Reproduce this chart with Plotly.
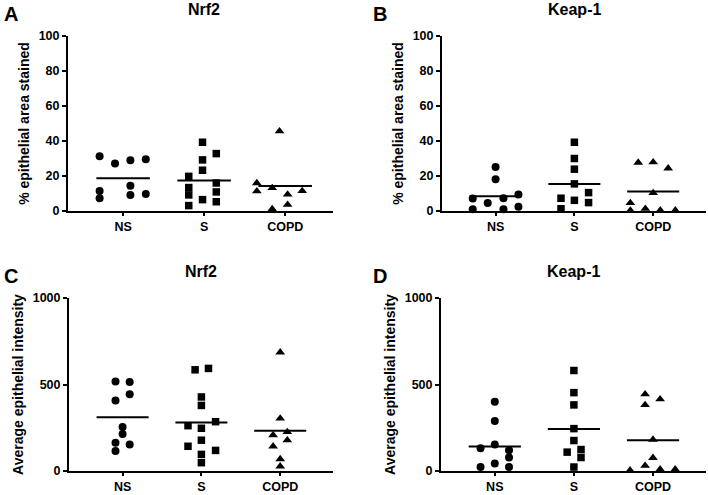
import plotly.graph_objects as go

## Data

groups = ["NS", "S", "COPD"]
pct_ticks = [0, 20, 40, 60, 80, 100]
int_ticks = [0, 500, 1000]

# Panel A: Nrf2, % epithelial area stained
a_ns = [31.3, 27.1, 29.0, 29.6, 11.5, 7.3, 14.5, 9.2, 9.7]
a_ns_off = [-0.29, -0.10, 0.09, 0.28, -0.29, -0.29, 0.09, 0.09, 0.28]
a_s = [19.8, 13.4, 9.2, 3.1, 39.3, 29.2, 23.3, 6.5, 32.8, 16.0, 10.9, 5.3]
a_s_off = [-0.19, -0.19, -0.19, -0.19, -0.02, -0.02, -0.02, -0.02, 0.15, 0.15, 0.15, 0.15]
a_copd = [16.0, 11.3, 13.2, 1.1, 45.6, 9.5, 3.6, 11.5]
a_copd_off = [-0.35, -0.35, -0.16, -0.16, -0.07, 0.03, 0.03, 0.21]
a_mean = [18.7, 17.4, 14.3]

# Panel B: Keap-1, % epithelial area stained
b_ns = [25.2, 18.1, 7.1, 1.0, 4.6, 7.3, 1.0, 9.5, 2.5]
b_ns_off = [0.0, 0.0, -0.29, -0.29, -0.10, 0.10, 0.10, 0.29, 0.29]
b_s = [39.3, 30.0, 23.9, 15.5, 7.3, 1.3, 6.1, 10.5, 4.8]
b_s_off = [0.0, 0.0, 0.0, 0.0, -0.17, -0.17, 0.0, 0.18, 0.18]
b_copd = [27.7, 27.9, 24.4, 4.6, 0.3, 1.3, 10.3, 0.4, 0.4]
b_copd_off = [-0.19, 0.0, 0.19, -0.29, -0.29, -0.10, 0.0, 0.09, 0.28]
b_mean = [8.4, 15.5, 11.1]

# Panel C: Nrf2, average epithelial intensity
c_ns = [518, 514, 444, 407, 254, 214, 164, 153, 115]
c_ns_off = [-0.09, 0.09, 0.09, -0.09, 0.0, 0.0, -0.09, 0.09, -0.09]
c_s = [585, 593, 428, 379, 262, 247, 285, 178, 143, 119, 96, 48]
c_s_off = [-0.08, 0.09, 0.0, 0.0, -0.17, 0.0, 0.18, 0.0, -0.17, 0.18, 0.0, 0.0]
c_copd = [686, 304, 208, 226, 178, 143, 69, 27]
c_copd_off = [0.0, 0.0, -0.09, 0.09, 0.09, -0.09, 0.0, 0.0]
c_mean = [310, 281, 233]

# Panel D: Keap-1, average epithelial intensity
d_ns = [400, 289, 132, 153, 120, 78, 44, 23, 23]
d_ns_off = [0.0, 0.0, -0.18, 0.0, 0.18, 0.18, 0.0, -0.18, 0.18]
d_s = [581, 453, 382, 245, 176, 109, 124, 78, 23]
d_s_off = [0.0, 0.0, 0.0, 0.0, 0.0, -0.085, 0.09, 0.09, 0.0]
d_copd = [444, 382, 415, 182, 76, 31, 4, 10, 10]
d_copd_off = [-0.1, -0.1, 0.09, 0.0, 0.0, -0.1, -0.29, 0.09, 0.28]
d_mean = [141, 243, 178]

panels = [
    ("A", "Nrf2", "% epithelial area stained", pct_ticks,
     [(a_ns, a_ns_off), (a_s, a_s_off), (a_copd, a_copd_off)], a_mean),
    ("B", "Keap-1", "% epithelial area stained", pct_ticks,
     [(b_ns, b_ns_off), (b_s, b_s_off), (b_copd, b_copd_off)], b_mean),
    ("C", "Nrf2", "Average epithelial intensity", int_ticks,
     [(c_ns, c_ns_off), (c_s, c_s_off), (c_copd, c_copd_off)], c_mean),
    ("D", "Keap-1", "Average epithelial intensity", int_ticks,
     [(d_ns, d_ns_off), (d_s, d_s_off), (d_copd, d_copd_off)], d_mean),
]

symbols = ["circle", "square", "triangle-up"]
sizes = [8, 7.5, 8.5]

## Layout geometry (paper coords)
W, H = 708, 495
xdoms = [[68 / W, 333 / W], [442 / W, 706 / W], [69 / W, 333 / W], [441 / W, 706 / W]]
ydoms = [[1 - 211 / H, 1 - 36 / H], [1 - 211 / H, 1 - 36 / H],
         [1 - 471 / H, 1 - 298 / H], [1 - 471 / H, 1 - 298 / H]]
xranges = [[-0.68, 2.59], [-0.68, 2.67], [-0.68, 2.67], [-0.68, 2.67]]
FONT = "Liberation Sans, Arial, sans-serif"
tfont = dict(family=FONT, size=12.5, color="black")

fig = go.Figure()
annotations = []

for k, (letter, title, ytitle, yticks, series, means) in enumerate(panels):
    n = k + 1
    xa = "x" if n == 1 else "x%d" % n
    ya = "y" if n == 1 else "y%d" % n
    for g, (vals, offs) in enumerate(series):
        fig.add_trace(go.Scatter(
            x=[g + o for o in offs], y=vals, mode="markers",
            marker=dict(symbol=symbols[g], size=sizes[g], color="black"),
            xaxis=xa, yaxis=ya, showlegend=False, cliponaxis=False))
        fig.add_trace(go.Scatter(
            x=[g - 0.33, g + 0.33], y=[means[g], means[g]], mode="lines",
            line=dict(color="black", width=2),
            xaxis=xa, yaxis=ya, showlegend=False))

    axkey = "" if n == 1 else str(n)
    fig.layout["xaxis" + axkey] = dict(
        domain=xdoms[k], anchor=ya, range=xranges[k], automargin=False,
        tickmode="array", tickvals=[0, 1, 2],
        ticktext=["<b>%s</b>" % t for t in groups],
        ticks="outside", ticklen=3, tickwidth=2, tickcolor="black",
        showline=True, linecolor="black", linewidth=2,
        showgrid=False, zeroline=False, tickfont=tfont)
    fig.layout["yaxis" + axkey] = dict(
        domain=ydoms[k], anchor=xa, range=[0, yticks[-1]], automargin=False,
        tickmode="array", tickvals=yticks,
        ticktext=["<b>%s</b>" % t for t in yticks],
        ticks="outside", ticklen=4, tickwidth=2, tickcolor="black",
        showline=True, linecolor="black", linewidth=2,
        showgrid=False, zeroline=False, tickfont=tfont,
        title=dict(text="<b>%s</b>" % ytitle, standoff=6,
                   font=dict(family=FONT, size=14, color="black")))

    # panel title centred over the middle group
    r0, r1 = xranges[k]
    mid = xdoms[k][0] + (xdoms[k][1] - xdoms[k][0]) * (1 - r0) / (r1 - r0)
    top = ydoms[k][1]
    annotations.append(dict(
        text="<b>%s</b>" % title, x=mid, y=top + 27 / H, xref="paper", yref="paper",
        xanchor="center", yanchor="middle", showarrow=False,
        font=dict(family=FONT, size=16, color="black")))
    annotations.append(dict(
        text="<b>%s</b>" % letter, x=(2 if k % 2 == 0 else 371) / W, y=top + 22 / H,
        xref="paper", yref="paper", xanchor="left", yanchor="middle", showarrow=False,
        font=dict(family=FONT, size=20, color="black")))

fig.update_layout(
    width=W, height=H, margin=dict(l=0, r=0, t=0, b=0),
    plot_bgcolor="white", paper_bgcolor="white",
    annotations=annotations)

# drop the page's default body margin so the figure fills the window
fig.write_html("out.html", config={"displayModeBar": False},
               post_script="document.body.style.margin='0px';")
